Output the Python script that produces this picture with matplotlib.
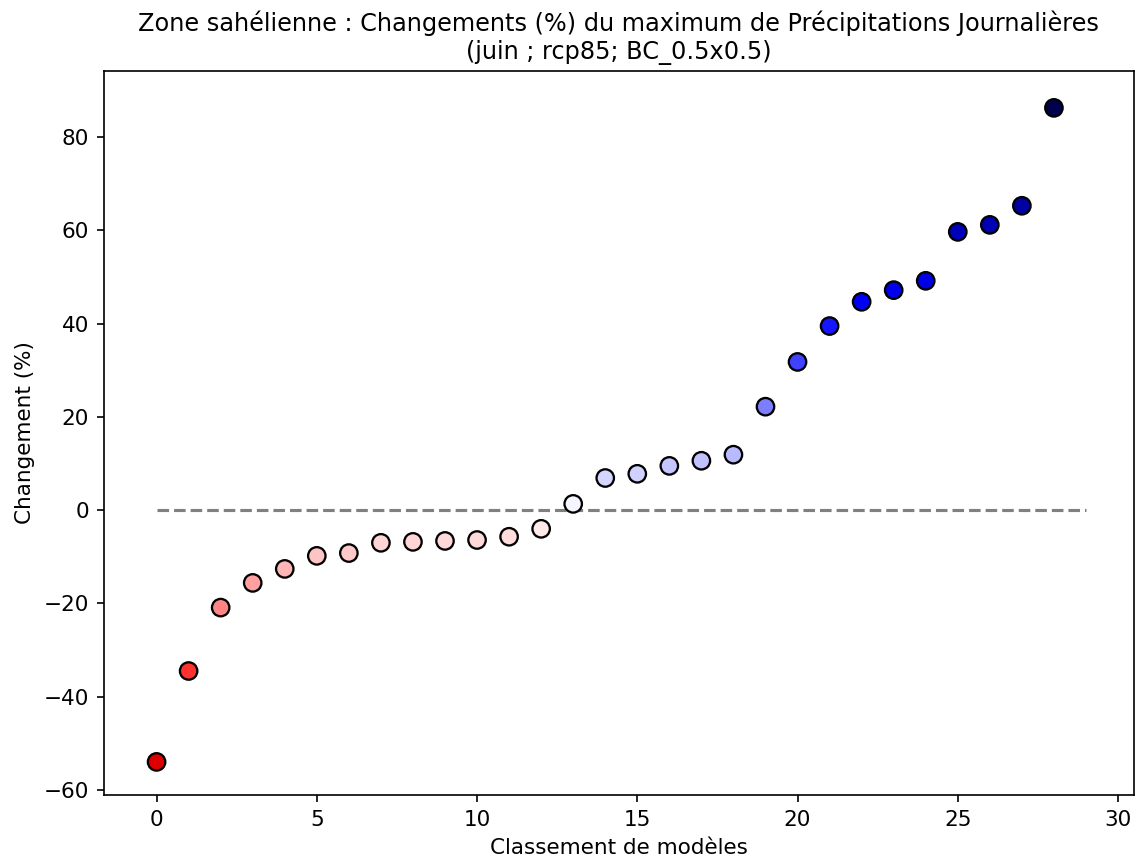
import matplotlib
matplotlib.use("Agg")
import matplotlib.pyplot as plt
import numpy as np

# classement des modeles et changements (%)
rang = list(range(29))
changement = [-54.0, -34.5, -20.9, -15.6, -12.6, -9.8, -9.2, -7.0, -6.8, -6.6,
              -6.4, -5.7, -4.0, 1.35, 6.9, 7.8, 9.5, 10.6, 11.9, 22.2,
              31.8, 39.5, 44.7, 47.2, 49.2, 59.7, 61.2, 65.3, 86.3]

titre = ("Zone sahélienne : Changements (%) du maximum de Précipitations Journalières\n"
         "(juin ; rcp85; BC_0.5x0.5)")

vmax = np.max(np.abs(changement))

fig, ax = plt.subplots(figsize=(1137 / 150, 859 / 150), dpi=150)
fig.subplots_adjust(left=0.0912, right=0.9974, bottom=0.0745, top=0.9173)

ax.plot([0, 29], [0, 0], "--", color="gray", lw=1.5, zorder=1)
ax.scatter(rang, changement, c=changement, cmap="seismic_r", vmin=-vmax, vmax=vmax,
           s=70, edgecolors="black", linewidths=1.1, zorder=2)

ax.set_xlim(-1.65, 30.5)
ax.set_ylim(-61.1, 94.2)
ax.set_xlabel("Classement de modèles", fontsize=10.3)
ax.set_ylabel("Changement (%)", fontsize=10.3)
ax.tick_params(labelsize=10.3)
ax.set_title(titre, fontsize=11.5)

fig.savefig("out.png", dpi=150)
